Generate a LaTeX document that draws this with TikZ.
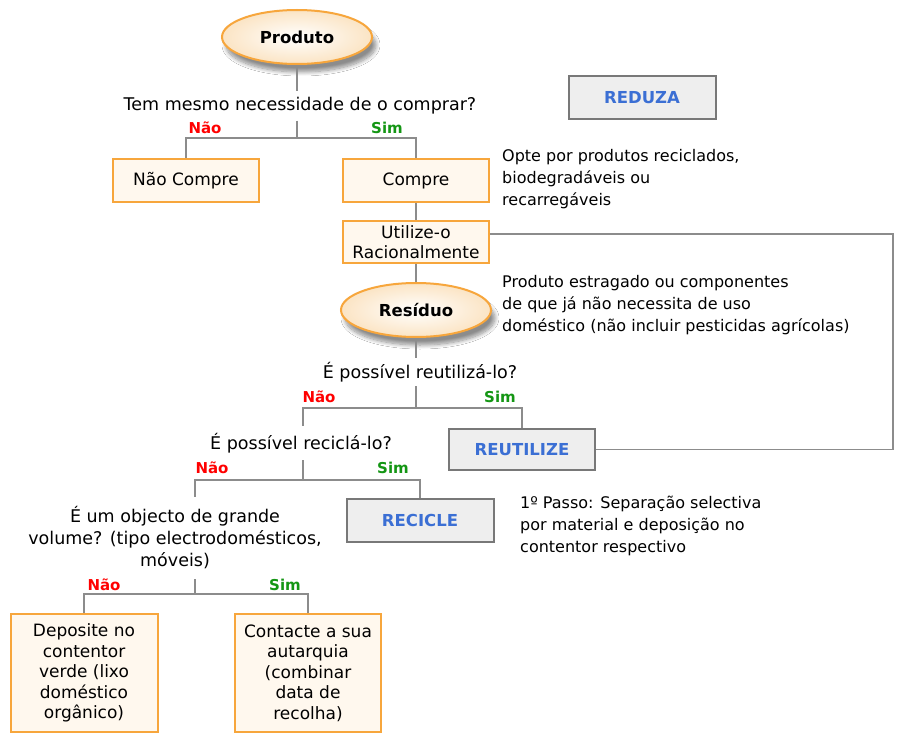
\documentclass[tikz,border=0pt]{standalone}
\usepackage{fontspec}
\setmainfont{DejaVu Sans}
\usetikzlibrary{shapes.geometric,shadows.blur}
\definecolor{orng}{RGB}{247,166,60}
\definecolor{cream}{RGB}{255,248,238}
\definecolor{conng}{RGB}{140,140,140}
\definecolor{bluet}{RGB}{59,111,212}
\definecolor{grayfill}{RGB}{238,238,238}
\definecolor{grayedge}{RGB}{120,120,120}
\definecolor{naored}{RGB}{255,0,0}
\definecolor{simgreen}{RGB}{20,150,20}
\definecolor{ovalout}{RGB}{251,228,196}
\begin{document}
\begin{tikzpicture}[x=1pt,y=-1pt,
 conn/.style={draw=conng,line width=1.5pt},
 obox/.style={draw=orng,fill=cream,line width=2pt,minimum width=146pt,minimum height=43pt,inner sep=0pt,align=center,font=\fontsize{17}{20}\selectfont},
 gbox/.style={draw=grayedge,fill=grayfill,line width=2pt,minimum width=147pt,minimum height=43pt,inner sep=0pt,font=\fontsize{16.5}{20}\selectfont\bfseries,text=bluet},
 oval/.style={ellipse,draw=orng,line width=2pt,inner color=white,outer color=ovalout,minimum width=150pt,minimum height=54pt,inner sep=0pt,font=\fontsize{16.5}{20}\selectfont\bfseries,blur shadow={shadow xshift=4pt,shadow yshift=-8pt,shadow blur radius=4pt,shadow blur steps=10,shadow opacity=45}},
 qtext/.style={inner xsep=0pt,inner ysep=5pt,align=center,font=\fontsize{17.5}{22}\selectfont},
 note/.style={anchor=west,inner sep=0pt,align=left,font=\fontsize{16}{22}\selectfont},
 nao/.style={text=naored,font=\fontsize{15}{16}\selectfont\bfseries,inner sep=0pt},
 sim/.style={text=simgreen,font=\fontsize{15}{16}\selectfont\bfseries,inner sep=0pt}]
\useasboundingbox[fill=white] (0,0) rectangle (898,741);

% level 1
\node[oval] (produto) at (297,37) {Produto};
\node[qtext,inner ysep=6pt] (q1) at (300,106) {Tem mesmo necessidade de o comprar?};
\node[nao] (n1) at (205,128) {Não};
\node[sim] (s1) at (387,128) {Sim};
\node[obox] (naocompre) at (186,180.5) {Não Compre};
\node[obox] (compre) at (416,180.5) {Compre};
\node[gbox] (reduza) at (642,98) {REDUZA};
\node[note] (opte) at (502,179) {Opte por produtos reciclados,\\biodegradáveis ou\\recarregáveis};
\node[obox,minimum height=42pt] (utilize) at (416,242) {Utilize-o\\Racionalmente};

% level 2
\node[oval] (residuo) at (416,310) {Resíduo};
\node[note] (estragado) at (502,305) {Produto estragado ou componentes\\de que já não necessita de uso\\doméstico (não incluir pesticidas agrícolas)};
\node[qtext,inner ysep=4pt] (q2) at (420,372) {É possível reutilizá-lo?};
\node[nao] (n2) at (319,397) {Não};
\node[sim] (s2) at (500,397) {Sim};
\node[gbox,minimum width=146pt,minimum height=41pt] (reutilize) at (522,449.5) {REUTILIZE};

% level 3
\node[qtext,inner ysep=7pt] (q3) at (301,443) {É possível reciclá-lo?};
\node[nao] (n3) at (212,468) {Não};
\node[sim] (s3) at (393,468) {Sim};
\node[gbox] (recicle) at (420,520.5) {RECICLE};
\node[note] (passo) at (520,526) {1º Passo: Separação selectiva\\por material e deposição no\\contentor respectivo};

% level 4
\node[qtext,inner ysep=10pt] (q4) at (175,538) {É um objecto de grande\\volume? (tipo electrodomésticos,\\móveis)};
\node[nao] (n4) at (104,585) {Não};
\node[sim] (s4) at (285,585) {Sim};
\node[obox,minimum width=147pt,minimum height=118pt,font=\fontsize{17}{20.5}\selectfont] (deposite) at (84,673) {Deposite no\\contentor\\verde (lixo\\doméstico\\orgânico)};
\node[obox,minimum width=146pt,minimum height=118pt,font=\fontsize{17}{20.5}\selectfont] (contacte) at (308,673) {Contacte a sua\\autarquia\\(combinar\\data de\\recolha)};

% junctions
\coordinate (j1) at (297,138);
\coordinate (j2) at (416,408);
\coordinate (j2l) at (303,408);
\coordinate (j3) at (303,480);
\coordinate (j3l) at (195,480);
\coordinate (j4) at (195,594);
\coordinate (rc) at (893,234);

% connectors
\draw[conn] (produto.south) -- (produto.south |- q1.north);
\draw[conn] (j1 |- q1.south) -- (j1);
\draw[conn] (j1) -| (naocompre.north);
\draw[conn] (j1) -| (compre.north);
\draw[conn] (compre.south) -- (utilize.north);
\draw[conn] (utilize.south) -- (residuo.north);
\draw[conn] (utilize.east |- rc) -- (rc) |- (reutilize.east);
\draw[conn] (residuo.south) -- (residuo.south |- q2.north);
\draw[conn] (residuo.south |- q2.south) -- (j2);
\draw[conn] (j2) -| (reutilize.north);
\draw[conn] (j2) -- (j2l) -- (j2l |- q3.north);
\draw[conn] (j2l |- q3.south) -- (j3);
\draw[conn] (j3) -| (recicle.north);
\draw[conn] (j3) -- (j3l) -- (j3l |- q4.north);
\draw[conn] (j4 |- q4.south) -- (j4);
\draw[conn] (j4) -| (deposite.north);
\draw[conn] (j4) -| (contacte.north);
\end{tikzpicture}
\end{document}
